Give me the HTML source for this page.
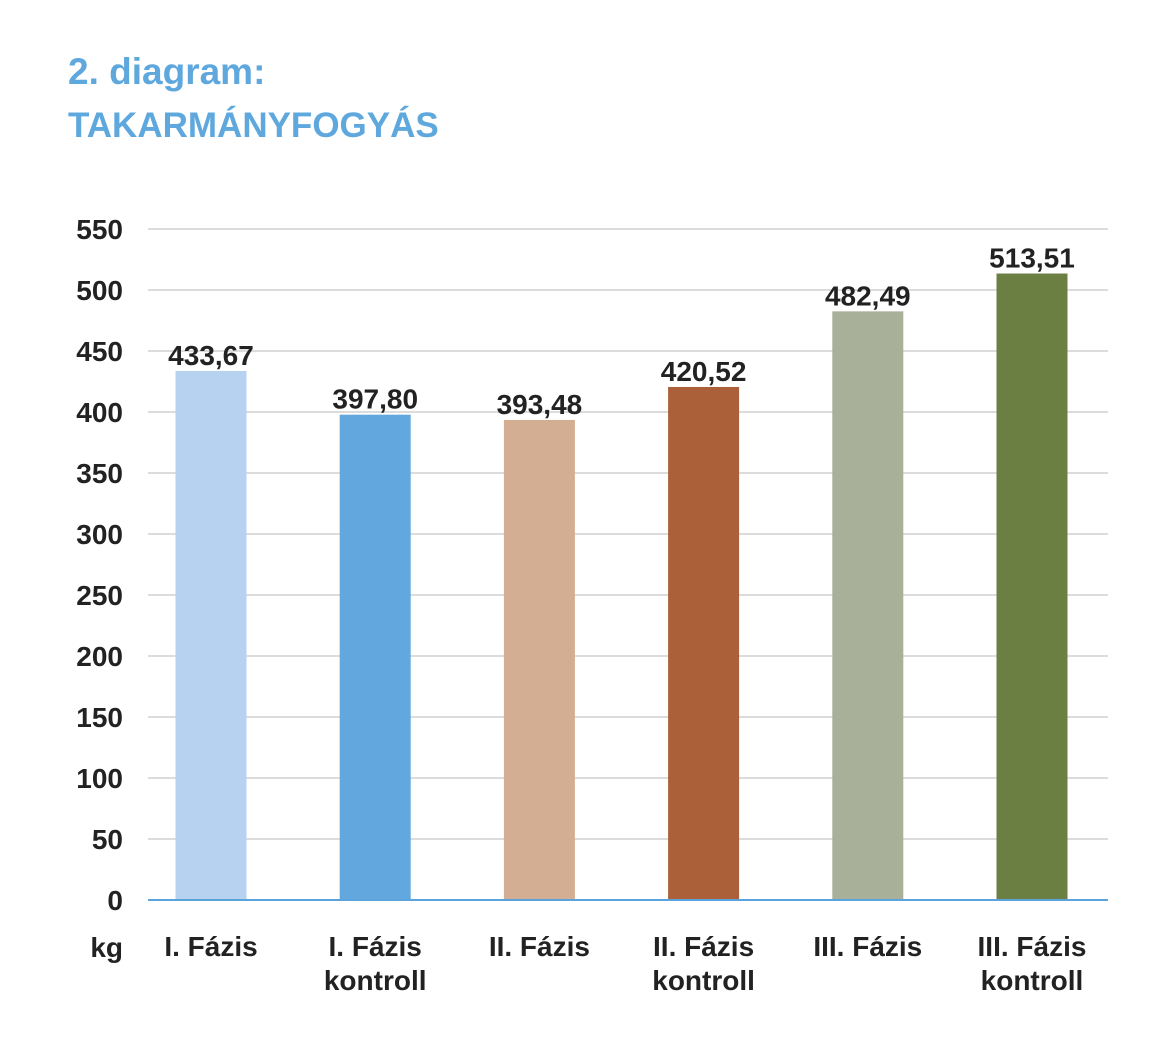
<!DOCTYPE html>
<html><head><meta charset="utf-8">
<style>
body{margin:0;background:#fff;}
svg text{font-family:"Liberation Sans","DejaVu Sans",sans-serif;}
</style></head>
<body>
<svg id="chart" width="1169" height="1057" viewBox="0 0 1169 1057" xmlns="http://www.w3.org/2000/svg">
<text x="68" y="84" font-size="37" font-weight="bold" fill="#5fa8de">2. diagram:</text>
<text x="68" y="137" font-size="35" font-weight="bold" fill="#5fa8de">TAKARMÁNYFOGYÁS</text>
<g id="grid"></g><g id="bars"></g><g id="labels"></g>
<text x="123" y="957" font-size="28" font-weight="bold" fill="#222" text-anchor="end">kg</text>
</svg>
<script>
const categories=[["I. Fázis"],["I. Fázis","kontroll"],["II. Fázis"],["II. Fázis","kontroll"],["III. Fázis"],["III. Fázis","kontroll"]];
const values=[433.67,397.80,393.48,420.52,482.49,513.51];
const valueLabels=["433,67","397,80","393,48","420,52","482,49","513,51"];
const colors=["#b7d2f0","#62a8de","#d4ae92","#ab603a","#a9b099","#6c7f42"];
const yTicks=[0,50,100,150,200,250,300,350,400,450,500,550];
const NS="http://www.w3.org/2000/svg";
const y0=900,y1=229,x0=148,x1=1108,yMax=550;
const y=v=>y0-(v/yMax)*(y0-y1);
const firstCenter=211,band=164.2;
const x=i=>firstCenter+band*i;
function mk(t,a,p){const e=document.createElementNS(NS,t);for(const k in a)e.setAttribute(k,a[k]);p.appendChild(e);return e;}
const grid=document.getElementById('grid'),bars=document.getElementById('bars'),labels=document.getElementById('labels');
yTicks.forEach(v=>{
  const l=mk('line',{x1:x0,x2:x1,y1:y(v),y2:y(v),stroke:'#dcdcdc','stroke-width':2},grid);
  
  
  const t=mk('text',{x:123,y:y(v)+10,'font-size':28,'font-weight':'bold',fill:'#222','text-anchor':'end'},grid);
  t.textContent=v;
  
  
});
values.forEach((v,i)=>{
  const w=71;
  const r=mk('rect',{x:x(i)-w/2,y:y(v),width:w,height:y0-y(v),fill:colors[i]},bars);
  
  
  const t=mk('text',{x:x(i),y:y(v)-6,'font-size':28,'font-weight':'bold',fill:'#222','text-anchor':'middle'},labels);
  t.textContent=valueLabels[i];
  
  
  categories[i].forEach((s,j)=>{
    const c=mk('text',{x:x(i),y:956+j*34,'font-size':28,'font-weight':'bold',fill:'#222','text-anchor':'middle'},labels);
    c.textContent=s;
    
    
  });
});
const ax=mk('line',{x1:x0,x2:x1,y1:y0,y2:y0,stroke:'#5ba3dc','stroke-width':2},labels);


</script>
</body></html>
